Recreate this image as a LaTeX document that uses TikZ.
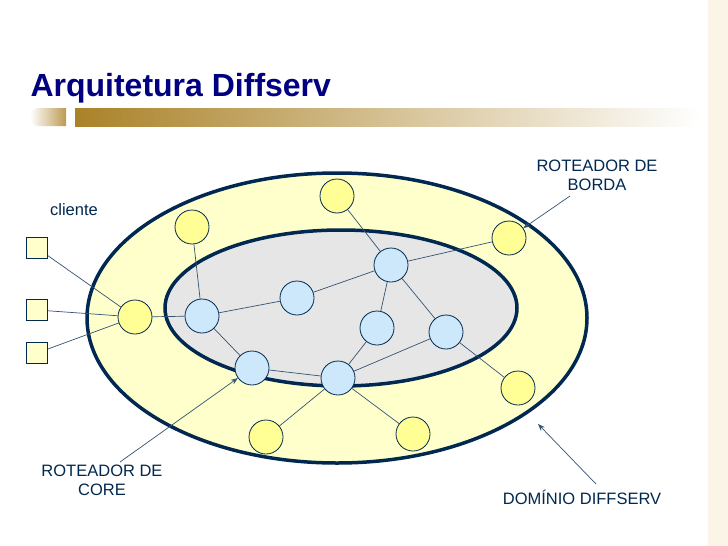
\documentclass[tikz,border=0pt]{standalone}
\usepackage{fontspec}
\setmainfont{Liberation Sans}
\usetikzlibrary{arrows.meta}
\definecolor{navy}{RGB}{0,0,128}
\definecolor{dk}{RGB}{0,40,80}
\definecolor{yel}{RGB}{255,255,150}
\definecolor{pyel}{RGB}{255,255,204}
\definecolor{blu}{RGB}{204,232,250}
\definecolor{gry}{RGB}{230,230,230}
\definecolor{gold}{RGB}{170,130,40}
\definecolor{lt}{RGB}{250,245,230}
\begin{document}
\begin{tikzpicture}[x=1pt,y=-1pt,
 yn/.style={circle,draw=dk,fill=yel,minimum size=34pt,inner sep=0pt,line width=0.8pt},
 bn/.style={circle,draw=dk,fill=blu,minimum size=34pt,inner sep=0pt,line width=0.8pt},
 sq/.style={rectangle,draw=dk,fill=pyel,minimum size=21pt,inner sep=0pt,line width=0.8pt},
 ln/.style={draw=dk!80,line width=0.7pt},
 lbl/.style={font=\fontsize{16.5}{19}\selectfont,text=dk,align=center},
 ar/.style={draw=dk!80,line width=0.7pt,-{Stealth[length=7pt]}}]
\useasboundingbox (0,0) rectangle (728,546);
\fill[white] (0,0) rectangle (728,546);
\fill[lt] (708,0) rectangle (728,546);
\node[anchor=west,font=\bfseries\fontsize{32}{36}\selectfont,text=navy] (title) at (27,88) {Arquitetura Diffserv};
\shade[left color=gold,right color=white] (75,108) rectangle (700,126);
\shade[left color=white,right color=gold!80] (66,108) -- (39,108) arc (270:90:9) -- (66,126) -- cycle;
\draw[dk,line width=3.5pt,fill=pyel] (337,318) ellipse (250 and 145);
\draw[dk,line width=3.5pt,fill=gry] (341,308) ellipse (176 and 78);
\node[sq] (c1) at (37,248) {};
\node[sq] (c2) at (37,310) {};
\node[sq] (c3) at (37,353) {};
\node[yn] (cl) at (135,317) {};
\node[yn] (y1) at (192,227) {};
\node[yn] (y2) at (337,196) {};
\node[yn] (y3) at (509,238) {};
\node[yn] (y4) at (518,388) {};
\node[yn] (y5) at (413,434) {};
\node[yn] (y6) at (266,437) {};
\node[bn] (b1) at (202,316) {};
\node[bn] (b2) at (297,298) {};
\node[bn] (b3) at (391,265) {};
\node[bn] (b4) at (377,328) {};
\node[bn] (b5) at (446,332) {};
\node[bn] (b6) at (252,368) {};
\node[bn] (b7) at (338,378) {};
\foreach \a/\b in {c1/cl,c2/cl,c3/cl,cl/b1,y1/b1,b1/b2,b2/b3,y2/b3,b3/y3,b3/b4,b3/b5,b1/b6,b6/b7,b4/b7,b5/b7,b7/y5,b7/y6,b5/y4}
  \draw[ln] (\a) -- (\b);
\node[lbl] (tc) at (74,210) {cliente};
\node[lbl] (tb) at (597,175) {ROTEADOR DE\\BORDA};
\node[lbl] (tco) at (102,480) {ROTEADOR DE\\CORE};
\node[lbl] (td) at (582,497) {DOMÍNIO DIFFSERV};
\coordinate (dp) at (538,424);
\coordinate (bs) at (570,196);
\coordinate (cs) at (120,462);
\coordinate (ds) at (596,484);
\draw[ar] (bs) -- (y3);
\draw[ar] (cs) -- (b6);
\draw[ar] (ds) -- (dp);
\end{tikzpicture}
\end{document}
